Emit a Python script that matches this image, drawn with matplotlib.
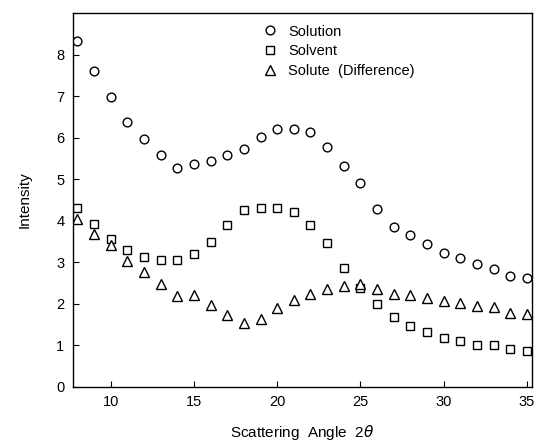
import matplotlib
matplotlib.use('Agg')
import matplotlib.pyplot as plt

plt.rcParams['font.family'] = ['Liberation Sans', 'DejaVu Sans']

# scattering angle 2theta
angle = [8, 9, 10, 11, 12, 13, 14, 15, 16, 17, 18, 19, 20, 21,
         22, 23, 24, 25, 26, 27, 28, 29, 30, 31, 32, 33, 34, 35]
solution = [8.34, 7.60, 6.99, 6.37, 5.98, 5.58, 5.28, 5.36, 5.45, 5.59, 5.73, 6.02, 6.21, 6.22,
            6.13, 5.79, 5.33, 4.90, 4.29, 3.86, 3.65, 3.45, 3.23, 3.10, 2.96, 2.84, 2.68, 2.63]
solvent = [4.31, 3.92, 3.56, 3.30, 3.13, 3.06, 3.06, 3.21, 3.50, 3.90, 4.27, 4.31, 4.31, 4.20,
           3.90, 3.47, 2.87, 2.39, 1.99, 1.67, 1.47, 1.33, 1.18, 1.09, 1.00, 1.00, 0.92, 0.85]
solute = [4.04, 3.69, 3.42, 3.02, 2.76, 2.48, 2.19, 2.21, 1.96, 1.73, 1.54, 1.63, 1.89, 2.10,
          2.24, 2.35, 2.43, 2.47, 2.35, 2.23, 2.20, 2.13, 2.07, 2.01, 1.95, 1.92, 1.78, 1.76]

fig = plt.figure(figsize=(5.37, 4.45), dpi=100)
ax = fig.add_axes([0.1354, 0.131, 0.8546, 0.839])

ax.plot(angle, solution, 'o', mfc='white', mec='black', mew=1.0, ms=6.3, linestyle='none', label='Solution')
ax.plot(angle, solvent, 's', mfc='white', mec='black', mew=1.0, ms=6.3, linestyle='none', label='Solvent')
ax.plot(angle, solute, '^', mfc='white', mec='black', mew=1.0, ms=6.8, linestyle='none',
        label='Solute  (Difference)')

ax.set_xlim(7.72, 35.28)
ax.set_ylim(0, 9)
ax.set_xticks([10, 15, 20, 25, 30, 35])
ax.set_yticks(range(0, 9))
ax.tick_params(direction='in', length=4, width=0.8, labelsize=10.5, pad=6)

for s in ax.spines.values():
    s.set_linewidth(1.0)

ax.set_xlabel('Scattering  Angle  2$\\theta$', fontsize=11, labelpad=10)
ax.set_ylabel('Intensity', fontsize=11, labelpad=18)

ax.legend(loc='upper left', bbox_to_anchor=(0.415, 0.97), frameon=False, fontsize=10.5,
          handlelength=1.0, handletextpad=0.7, labelspacing=0.4, borderaxespad=0,
          borderpad=0)

fig.savefig('out.png', dpi=100)
